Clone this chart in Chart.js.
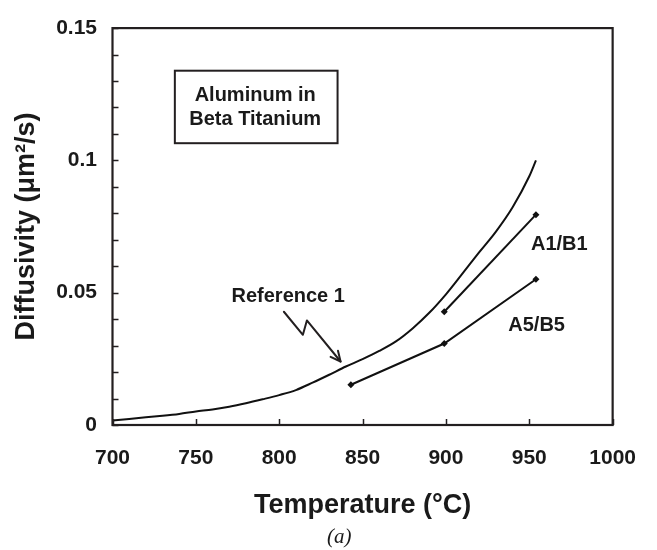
<!DOCTYPE html>
<html><head><meta charset="utf-8">
<script src="https://cdn.jsdelivr.net/npm/chart.js@4.4.1/dist/chart.umd.min.js"></script>
<style>html,body{margin:0;padding:0;background:#fff;}</style>
</head><body>
<canvas id="c" width="657" height="550" style="width:657px;height:550px;display:block"></canvas>
<script>
// ---- data ----
const refTemps = [700,710,720,730,740,750,760,770,780,790,800,810,820,830,840,850,860,870,880,890,900,910,920,930,940,950,954];
const refD     = [0.0017,0.0023,0.0029,0.0035,0.0042,0.0051,0.0059,0.0069,0.0082,0.0097,0.0113,0.0132,0.0160,0.0190,0.0221,0.0249,0.0280,0.0316,0.0365,0.0424,0.0494,0.0573,0.0653,0.0731,0.0823,0.0940,0.1000];
const a1Temps  = [899, 954];
const a1D      = [0.0428, 0.0795];
const a5Temps  = [843, 899, 954];
const a5D      = [0.0152, 0.0308, 0.0551];
const xTickValues = [700,750,800,850,900,950,1000];
const yTickLabels = ['0','0.05','0.1','0.15'];
const xTitle = 'Temperature (°C)';
const yTitle = 'Diffusivity (μm²/s)';
const boxLines = ['Aluminum in','Beta Titanium'];
const refLabel = 'Reference 1';
const a1Label = 'A1/B1';
const a5Label = 'A5/B5';
const panelLabel = '(a)';

// ---- annotation placement (data units) ----
const ink = '#231f20';
const FONT = '"Liberation Sans", Arial, Helvetica, sans-serif';
const boxPos = {x1:737.4, x2:835.0, y1:0.1339, y2:0.1065, cx:785.6, l1:0.1245, l2:0.1153};
const refText = {x:805.4, y:0.0487};
const arrowPath = [[802.8,0.0428],[814.2,0.0341],[816.6,0.0395],[836.8,0.0240]];
const a1Text = {x:968, y:0.0684};
const a5Text = {x:954.4, y:0.0376};
const panelPos = {x:836, dy:112}; // x in data units, dy = px below plot bottom

const toPts = (xs, ys) => xs.map((v,i)=>({x:v, y:ys[i]}));

const deco = {
  id:'deco',
  afterDraw(chart){
    const {ctx, chartArea:a, scales:{x,y}} = chart;
    ctx.save();
    ctx.strokeStyle = ink; ctx.lineCap='butt';
    // inward tick marks
    ctx.lineWidth = 1.5;
    y.ticks.forEach(t=>{
      const py = Math.round(y.getPixelForValue(t.value))+0.5;
      ctx.beginPath(); ctx.moveTo(a.left, py); ctx.lineTo(a.left+6, py); ctx.stroke();
    });
    x.ticks.forEach(t=>{
      const px = Math.round(x.getPixelForValue(t.value))+0.5;
      ctx.beginPath(); ctx.moveTo(px, a.bottom); ctx.lineTo(px, a.bottom-6); ctx.stroke();
    });
    // plot frame
    ctx.lineWidth = 2.2;
    ctx.strokeRect(a.left, a.top, a.right-a.left, a.bottom-a.top);
    // label box
    const bx1 = x.getPixelForValue(boxPos.x1), bx2 = x.getPixelForValue(boxPos.x2);
    const by1 = y.getPixelForValue(boxPos.y1), by2 = y.getPixelForValue(boxPos.y2);
    ctx.lineWidth = 2;
    ctx.strokeRect(bx1, by1, bx2-bx1, by2-by1);
    ctx.fillStyle = '#1a1a1a';
    ctx.font = 'bold 20px ' + FONT;
    ctx.textAlign='center'; ctx.textBaseline='middle';
    ctx.fillText(boxLines[0], x.getPixelForValue(boxPos.cx), y.getPixelForValue(boxPos.l1));
    ctx.fillText(boxLines[1], x.getPixelForValue(boxPos.cx), y.getPixelForValue(boxPos.l2));
    // series labels
    ctx.fillText(refLabel, x.getPixelForValue(refText.x), y.getPixelForValue(refText.y));
    ctx.fillText(a1Label, x.getPixelForValue(a1Text.x), y.getPixelForValue(a1Text.y));
    ctx.fillText(a5Label, x.getPixelForValue(a5Text.x), y.getPixelForValue(a5Text.y));
    // panel label
    ctx.font = 'italic 21px "Liberation Serif", "Times New Roman", serif';
    ctx.fillText(panelLabel, x.getPixelForValue(panelPos.x), a.bottom + panelPos.dy);
    // zigzag arrow
    const P = arrowPath.map(p=>[x.getPixelForValue(p[0]), y.getPixelForValue(p[1])]);
    ctx.lineWidth = 2; ctx.lineJoin='round'; ctx.lineCap='round';
    ctx.beginPath(); ctx.moveTo(P[0][0],P[0][1]);
    for(let i=1;i<P.length;i++) ctx.lineTo(P[i][0],P[i][1]);
    ctx.stroke();
    const tip = P[P.length-1], prev = P[P.length-2];
    const ang = Math.atan2(tip[1]-prev[1], tip[0]-prev[0]);
    const L = 11, w = 0.45;
    ctx.beginPath();
    ctx.moveTo(tip[0]-L*Math.cos(ang-w), tip[1]-L*Math.sin(ang-w));
    ctx.lineTo(tip[0], tip[1]);
    ctx.lineTo(tip[0]-L*Math.cos(ang+w), tip[1]-L*Math.sin(ang+w));
    ctx.stroke();
    ctx.restore();
  }
};

new Chart(document.getElementById('c'), {
  type:'scatter',
  data:{datasets:[
    {label:refLabel, data:toPts(refTemps, refD), showLine:true, borderColor:'#111', borderWidth:2, pointRadius:0, cubicInterpolationMode:'monotone'},
    {label:a1Label, data:toPts(a1Temps, a1D), showLine:true, borderColor:'#111', backgroundColor:'#111', borderWidth:2, pointStyle:'rectRot', pointRadius:3.5, pointBorderWidth:0},
    {label:a5Label, data:toPts(a5Temps, a5D), showLine:true, borderColor:'#111', backgroundColor:'#111', borderWidth:2, pointStyle:'rectRot', pointRadius:3.5, pointBorderWidth:0}
  ]},
  options:{
    responsive:false, animation:false, devicePixelRatio:1,
    layout:{padding:{top:19.5, right:34.3, left:0, bottom:0}},
    plugins:{ legend:{display:false}, tooltip:{enabled:false}, title:{display:false} },
    scales:{
      x:{type:'linear', min:700, max:1000,
        afterBuildTicks:s=>{ s.ticks = xTickValues.map(v=>({value:v})); },
        afterFit:s=>{ s.height = 125; },
        grid:{display:false, drawTicks:false}, border:{display:false},
        ticks:{color:'#1a1a1a', padding:21, maxRotation:0, autoSkip:false, font:{family:FONT, size:21, weight:'bold'}, callback:v=>String(v)},
        title:{display:true, text:xTitle, color:'#1a1a1a', font:{family:FONT, size:27, weight:'bold'}, padding:{top:0,bottom:27.8}}
      },
      y:{type:'linear', min:0, max:0.15,
        ticks:{stepSize:0.01, autoSkip:false, color:'#1a1a1a', padding:15.5, font:{family:FONT, size:21, weight:'bold'},
          callback:v=>{ const k=Math.round(v*100); return k%5===0 ? yTickLabels[k/5] : ''; }},
        afterFit:s=>{ s.width = 112.5; },
        grid:{display:false, drawTicks:false}, border:{display:false},
        title:{display:true, text:yTitle, color:'#1a1a1a', font:{family:FONT, size:27, weight:'bold'}, padding:{top:10.5,bottom:0}}
      }
    }
  },
  plugins:[deco]
});
</script>
</body></html>
